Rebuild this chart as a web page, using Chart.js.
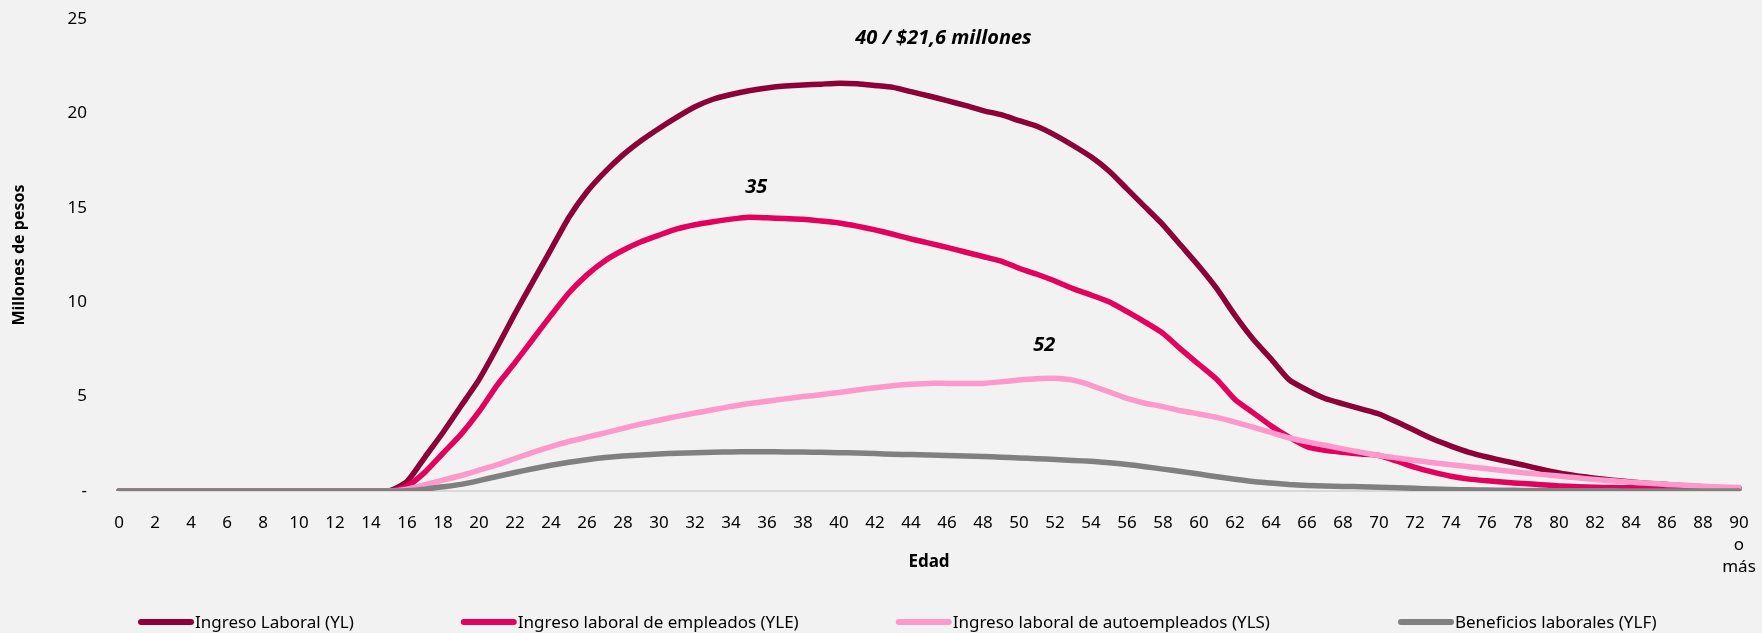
<!DOCTYPE html>
<html>
<head>
<meta charset="utf-8">
<script src="https://cdn.jsdelivr.net/npm/chart.js@4/dist/chart.umd.min.js"></script>
<style>
  html, body { margin: 0; padding: 0; background: #F2F2F2; }
  #wrap { width: 1762px; height: 633px; }
</style>
</head>
<body>
<div id="wrap"><canvas id="grafico" width="1762" height="633"></canvas></div>
<script>
// Edades (categorias del eje x)
const edades = ['0','1','2','3','4','5','6','7','8','9','10','11','12','13','14','15','16','17','18','19',
  '20','21','22','23','24','25','26','27','28','29','30','31','32','33','34','35','36','37','38','39',
  '40','41','42','43','44','45','46','47','48','49','50','51','52','53','54','55','56','57','58','59',
  '60','61','62','63','64','65','66','67','68','69','70','71','72','73','74','75','76','77','78','79',
  '80','81','82','83','84','85','86','87','88','89',['90','o','más']];

// Millones de pesos por edad
const ingresoLaboral = [0,0,0,0,0,0,0,0,0,0,0,0,0,0,0,0,
  0.5,1.8,3.1,4.5,5.9,7.6,9.4,11.1,12.8,14.5,15.85,16.9,17.8,18.55,19.2,19.8,20.35,20.75,21.0,21.2,
  21.35,21.45,21.5,21.55,21.6,21.57,21.48,21.38,21.15,20.92,20.68,20.42,20.15,19.93,19.62,19.32,18.85,18.3,17.7,16.95,
  16.0,15.05,14.1,13.0,11.9,10.7,9.3,8.05,7.0,5.9,5.35,4.9,4.62,4.35,4.08,3.65,3.2,2.75,2.38,2.05,
  1.8,1.58,1.38,1.15,0.95,0.8,0.68,0.57,0.48,0.4,0.34,0.28,0.22,0.17,0.14];

const ingresoEmpleados = [0,0,0,0,0,0,0,0,0,0,0,0,0,0,0,0,
  0.25,1.0,2.0,3.0,4.2,5.6,6.8,8.05,9.3,10.5,11.45,12.2,12.75,13.2,13.55,13.88,14.1,14.26,14.4,14.5,
  14.47,14.43,14.39,14.3,14.2,14.03,13.83,13.6,13.35,13.13,12.9,12.66,12.42,12.18,11.8,11.48,11.12,10.72,10.38,10.02,
  9.5,8.95,8.35,7.5,6.7,5.9,4.85,4.15,3.45,2.85,2.35,2.15,2.05,1.96,1.88,1.58,1.25,1.0,0.78,0.63,
  0.54,0.46,0.4,0.33,0.27,0.23,0.2,0.18,0.17,0.16,0.16,0.15,0.15,0.15,0.15];

const ingresoAutoempleados = [0,0,0,0,0,0,0,0,0,0,0,0,0,0,0,0,
  0.1,0.33,0.58,0.82,1.1,1.38,1.72,2.05,2.35,2.62,2.85,3.08,3.32,3.55,3.75,3.95,4.13,4.3,4.48,4.63,
  4.75,4.88,5.0,5.1,5.22,5.35,5.47,5.58,5.65,5.7,5.7,5.7,5.7,5.78,5.88,5.95,5.97,5.87,5.6,5.25,
  4.9,4.65,4.47,4.25,4.08,3.9,3.65,3.38,3.1,2.82,2.6,2.42,2.23,2.05,1.88,1.75,1.62,1.5,1.39,1.28,
  1.18,1.07,0.97,0.88,0.79,0.7,0.61,0.54,0.47,0.41,0.35,0.3,0.25,0.21,0.18];

const beneficiosLaborales = [0,0,0,0,0,0,0,0,0,0,0,0,0,0,0,0,
  0.02,0.1,0.22,0.35,0.55,0.77,0.98,1.18,1.36,1.52,1.66,1.77,1.85,1.91,1.96,2.0,2.03,2.05,2.07,2.08,
  2.08,2.07,2.06,2.05,2.03,2.01,1.98,1.95,1.93,1.91,1.88,1.86,1.83,1.79,1.75,1.71,1.67,1.62,1.57,1.5,
  1.4,1.29,1.16,1.03,0.9,0.75,0.62,0.5,0.42,0.34,0.29,0.26,0.24,0.23,0.2,0.17,0.14,0.11,0.08,0.06,
  0.05,0.04,0.03,0.02,0.01,0.01,0.01,0.01,0,0,0,0,0,0,0];

const series = ['Ingreso Laboral (YL)', 'Ingreso laboral de empleados (YLE)',
  'Ingreso laboral de autoempleados (YLS)', 'Beneficios laborales (YLF)'];
const colores = ['#8C0037', '#E2005C', '#FF99CC', '#808080'];

// Etiquetas de los picos: texto, edad, valor
const notasTexto = ['40 / $21,6 millones', '35', '52'];
const notasEdad = [45.8, 35.4, 51.4];
const notasValor = [24.0, 16.1, 7.7];

const fuente = "'Segoe UI', 'Noto Sans', sans-serif";

// Etiquetas de picos
const notasPlugin = {
  id: 'notas',
  afterDatasetsDraw(chart) {
    const ctx = chart.ctx;
    const xs = chart.scales.x, ys = chart.scales.y;
    ctx.save();
    ctx.fillStyle = '#000';
    ctx.font = 'italic bold 20px ' + fuente;
    ctx.textAlign = 'center';
    ctx.textBaseline = 'middle';
    notasTexto.forEach((t, i) => {
      ctx.fillText(t, xs.getPixelForValue(notasEdad[i]), ys.getPixelForValue(notasValor[i]));
    });
    ctx.restore();
  }
};

// Leyenda abajo
const huecos = [107, 97, 128];
const leyendaPlugin = {
  id: 'leyenda',
  afterDraw(chart) {
    const ctx = chart.ctx;
    ctx.save();
    ctx.font = '17px ' + fuente;
    ctx.textBaseline = 'middle';
    ctx.textAlign = 'left';
    const y = 622;
    let x = chart.chartArea.left + 19;
    chart.data.datasets.forEach((ds, i) => {
      ctx.strokeStyle = ds.borderColor;
      ctx.lineWidth = 6;
      ctx.lineCap = 'round';
      ctx.beginPath();
      ctx.moveTo(x + 3, y);
      ctx.lineTo(x + 53, y);
      ctx.stroke();
      ctx.fillStyle = '#000';
      ctx.fillText(ds.label, x + 57, y + 1);
      x += 57 + ctx.measureText(ds.label).width + (huecos[i] || 0);
    });
    ctx.restore();
  }
};

const datos = [ingresoLaboral, ingresoEmpleados, ingresoAutoempleados, beneficiosLaborales];

new Chart(document.getElementById('grafico').getContext('2d'), {
  type: 'line',
  data: {
    labels: edades,
    datasets: series.map((nombre, i) => ({
      label: nombre,
      data: datos[i],
      borderColor: colores[i],
      backgroundColor: colores[i],
      borderWidth: 5.5,
      pointRadius: 0,
      tension: 0.2,
      borderCapStyle: 'round',
      borderJoinStyle: 'round',
      order: 4 - i
    }))
  },
  options: {
    responsive: false,
    animation: false,
    layout: { padding: { top: 19, right: 23, bottom: 61, left: 0 } },
    plugins: {
      legend: { display: false },
      tooltip: { enabled: false }
    },
    scales: {
      x: {
        // marcas invisibles para separar las etiquetas del eje
        grid: { display: true, drawOnChartArea: false, drawTicks: true, tickLength: 21, color: 'rgba(0,0,0,0)' },
        border: { display: true, color: '#D9D9D9', width: 2 },
        ticks: {
          autoSkip: false,
          maxRotation: 0,
          padding: 0,
          color: '#000',
          font: { family: fuente, size: 17, lineHeight: 1.3 },
          callback: function (v, i) { return i % 2 === 0 ? this.getLabelForValue(v) : ''; }
        },
        title: {
          display: true, text: 'Edad', color: '#000',
          font: { family: fuente, size: 17, weight: 'bold', lineHeight: 1.2 },
          padding: { top: 0, bottom: 0 }
        },
        afterFit(scale) { scale.height = 81; }
      },
      y: {
        min: 0, max: 25,
        grid: { display: true, drawOnChartArea: false, drawTicks: true, tickLength: 32, color: 'rgba(0,0,0,0)' },
        border: { display: false },
        ticks: {
          stepSize: 5,
          padding: 0,
          color: '#000',
          font: { family: fuente, size: 17 },
          callback: v => v === 0 ? '-' : v
        },
        title: {
          display: true, text: 'Millones de pesos', color: '#000',
          font: { family: fuente, size: 16, weight: 'bold', lineHeight: 1.2 },
          padding: { top: 10, bottom: 0 }
        },
        afterFit(scale) { scale.width = 119; }
      }
    }
  },
  plugins: [notasPlugin, leyendaPlugin]
});
</script>
</body>
</html>
